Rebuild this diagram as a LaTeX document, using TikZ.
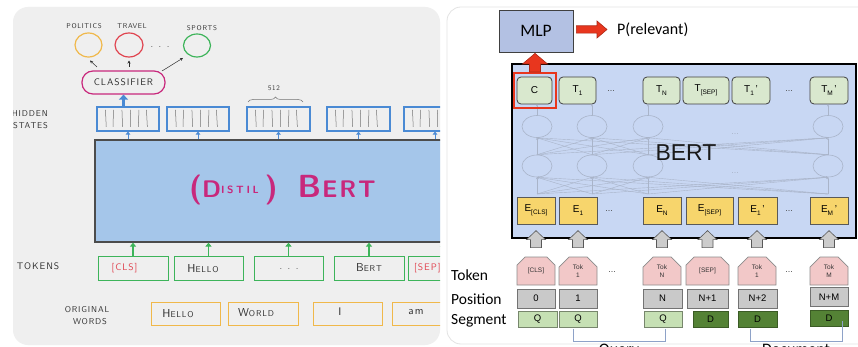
\documentclass[tikz,border=0pt]{standalone}
\usepackage{fontspec}
\setmainfont{Liberation Sans}
\newfontfamily\calib{Carlito}
\newfontfamily\handfont{lmsans10-regular.otf}[LetterSpace=10]
\newfontfamily\markerfont{lmsans10-bold.otf}
\newfontfamily\markerwide{lmsans10-bold.otf}[LetterSpace=25]
\newfontfamily\markerspread{lmsans10-bold.otf}[LetterSpace=8]
\usetikzlibrary{arrows.meta,shapes.geometric,shapes.misc,decorations.pathreplacing,calc}

\definecolor{panelgray}{HTML}{EFEFEF}
\definecolor{panelline}{HTML}{E3E3E3}
\definecolor{sketchblue}{HTML}{A5C6EA}
\definecolor{penblue}{HTML}{4A8AD4}
\definecolor{pengreen}{HTML}{3DB45A}
\definecolor{penorange}{HTML}{F0B84A}
\definecolor{penred}{HTML}{E0434F}
\definecolor{penmagenta}{HTML}{C8287C}
\definecolor{penink}{HTML}{2E2E2E}
\definecolor{bertfill}{HTML}{C8D7F3}
\definecolor{mlpfill}{HTML}{B3C1E3}
\definecolor{tfill}{HTML}{D9E8CE}
\definecolor{efill}{HTML}{F7D56C}
\definecolor{tokfill}{HTML}{F2C8C8}
\definecolor{posfill}{HTML}{C9C9C9}
\definecolor{segq}{HTML}{C6E0B4}
\definecolor{segd}{HTML}{548235}
\definecolor{arrred}{HTML}{E8361E}
\definecolor{netline}{HTML}{A9B4C9}
\definecolor{brkline}{HTML}{8EA2C8}

% lowered subscript for the cell labels
\newcommand\sbx[1]{\raisebox{-2.6pt}{\fontsize{6.5}{7}\selectfont #1}}
% hand lettering: first letter large, the rest small
\newcommand\hcap[2]{{\fontsize{11.5}{12}\selectfont #1}{\fontsize{8.5}{9}\selectfont #2}}

\tikzset{
  handtext/.style={font=\handfont\fontsize{7}{7}\selectfont, text=penink, inner sep=0pt},
  cellword/.style={font=\handfont\fontsize{9.5}{10}\selectfont, text=penink, inner sep=0pt},
  hiddenbox/.style={draw=penblue, line width=1.1pt, minimum height=24pt, inner sep=0pt},
  tokenbox/.style={draw=pengreen, line width=1pt, minimum height=24pt, inner sep=0pt},
  wordbox/.style={draw=penorange, line width=1pt, minimum height=23pt, inner sep=0pt},
  penstroke/.style={draw=black!55, line width=0.5pt},
  bluetip/.style={draw=penblue, line width=1pt, -{Triangle[length=3pt,width=4.5pt]}},
  greentip/.style={draw=pengreen, line width=1.3pt, -{Triangle[length=4pt,width=6pt]}},
  inkarrow/.style={draw=penink, line width=0.5pt, -{Stealth[length=3pt,width=3pt]}},
  topic/.style={ellipse, line width=1.2pt, inner sep=0pt},
  % right-hand figure
  tcell/.style={draw=black!75, fill=tfill, rounded corners=4pt, line width=0.8pt, minimum height=27pt, inner sep=0pt, font=\fontsize{10}{10}\selectfont},
  ecell/.style={draw=black!65, fill=efill, line width=0.8pt, minimum height=27pt, inner sep=0pt, font=\fontsize{10}{10}\selectfont},
  tokcell/.style={chamfered rectangle, chamfered rectangle corners={north west,north east}, chamfered rectangle xsep=5pt, chamfered rectangle ysep=5pt, draw=black!45, fill=tokfill, line width=0.7pt, minimum height=28pt, inner sep=0pt, align=center, font=\fontsize{6.5}{8}\selectfont, text=black!80},
  poscell/.style={draw=black!55, fill=posfill, line width=0.7pt, minimum height=19pt, inner sep=0pt, font=\fontsize{9.5}{10}\selectfont},
  segqcell/.style={draw=black!40!segq, fill=segq, line width=0.7pt, minimum height=16pt, inner sep=0pt, font=\fontsize{9.5}{10}\selectfont},
  segdcell/.style={draw=black!30!segd, fill=segd, line width=0.7pt, minimum height=16pt, inner sep=0pt, font=\fontsize{9.5}{10}\selectfont},
  neuron/.style={ellipse, draw=netline, line width=0.6pt, minimum width=30pt, minimum height=22pt, inner sep=0pt},
  netlink/.style={draw=netline, line width=0.4pt, -{Stealth[length=2pt,width=2pt]}},
  grayarrow/.style={draw=black!65, fill=black!20, line width=0.6pt},
  redarrow/.style={draw=black!25!arrred, fill=arrred, line width=0.6pt},
  rowlabel/.style={font=\calib\fontsize{15.5}{16}\selectfont, anchor=west, inner sep=0pt},
  dots/.style={font=\fontsize{9}{9}\selectfont, text=black!70, inner sep=0pt},
  bracketline/.style={draw=brkline, line width=0.8pt},
}

\begin{document}
\begin{tikzpicture}[x=1pt,y=-1pt]
\useasboundingbox (0,0) rectangle (858,347);
\clip (0,0) rectangle (858,347);
\fill[white] (0,0) rectangle (858,347);

%% ---------------- left: the sketched pipeline ----------------
\fill[panelgray, rounded corners=15pt] (13,7) rectangle (440,345);
\begin{scope}
\clip[rounded corners=15pt] (13,7) rectangle (440,345);

% topic classes
\node[topic, draw=penorange, minimum width=27pt, minimum height=24pt] (pol) at (88.5,45) {};
\node[topic, draw=penred, minimum width=28pt, minimum height=24pt] (trav) at (129,45) {};
\node[topic, draw=pengreen, minimum width=27pt, minimum height=23pt] (spo) at (197,45.5) {};
\node[handtext] (pollab) at (84,26) {POLITICS};
\node[handtext] (travlab) at (132,26.5) {TRAVEL};
\node[handtext] (spolab) at (202,28) {SPORTS};
\node[cellword] (topdots) at (160,47) {. . .};

% classifier
\node[draw=penmagenta, line width=1.2pt, rounded corners=11pt, minimum width=83pt, minimum height=23pt, inner sep=0pt,
      font=\handfont\fontsize{9.5}{10}\selectfont, text=penink] (cls) at (123.5,82.5) {CLASSIFIER};
\coordinate (c1a) at (97,67);  \coordinate (c1b) at (90,60.5);
\coordinate (c2a) at (129,67); \coordinate (c2b) at (129,60.5);
\coordinate (c3a) at (162,71); \coordinate (c3b) at (183,58);
\draw[inkarrow] (c1a) -- (c1b);
\draw[inkarrow] (c2a) -- (c2b);
\draw[inkarrow] (c3a) -- (c3b);

% hidden states
\node[hiddenbox, minimum width=62pt] (h1) at (128,119) {};
\node[hiddenbox, minimum width=62pt] (h2) at (198,119) {};
\node[hiddenbox, minimum width=63pt] (h3) at (278.5,119) {};
\node[hiddenbox, minimum width=63pt] (h4) at (358.5,119) {};
\node[hiddenbox, minimum width=62pt] (h5) at (435,119) {};
\foreach \b in {h1,h2,h3,h4,h5}{
  \foreach \dx/\tl in {9/0.8,17/-0.4,25.5/0.6,34/0.2,42.5/-0.6,50/0.9}
    \draw[penstroke] ($(\b.north west)+(\dx,3.5)$) -- ++(\tl,17);
}
\node[handtext, anchor=east, font=\handfont\fontsize{8.5}{9}\selectfont] (hidlab1) at (48,113.5) {HIDDEN};
\node[handtext, anchor=east, font=\handfont\fontsize{8.5}{9}\selectfont] (hidlab2) at (48,126) {STATES};
\draw[decorate, decoration={brace, amplitude=5pt}, draw=black!55, line width=0.5pt] (248,102) -- (303,102);
\node[handtext] (sizelab) at (274,88.5) {512};

\draw[draw=penblue, line width=2.2pt, -{Triangle[length=5pt,width=9pt]}] (h1.north -| cls.south) -- (cls.south);

% encoder block
\node[draw=black!70, fill=sketchblue, line width=1.2pt, minimum width=360pt, minimum height=102pt, inner sep=0pt] (lbert) at (275,191) {};
\node[inner sep=0pt, anchor=base west, text=penmagenta] (lbertlab) at (189,197)
  {\markerfont{\fontsize{30}{30}\selectfont (}{\fontsize{24}{24}\selectfont D}\raisebox{3pt}{\markerwide\fontsize{10.5}{11}\selectfont ISTIL}\hspace{6pt}{\fontsize{30}{30}\selectfont )}\hspace{20pt}{\fontsize{32}{32}\selectfont B}\hspace{1pt}{\markerspread\fontsize{24}{24}\selectfont ERT}};

\foreach \b in {h1,h2,h3,h4,h5}
  \draw[bluetip] (\b.south |- lbert.north) -- (\b.south);

% tokens
\node[tokenbox, minimum width=70pt] (t1) at (133,268) {};
\node[tokenbox, minimum width=69pt] (t2) at (208.5,268) {};
\node[tokenbox, minimum width=69pt] (t3) at (288.5,268) {};
\node[tokenbox, minimum width=70pt] (t4) at (369,268) {};
\node[tokenbox, minimum width=70pt] (t5) at (443,268) {};
\node[cellword, text=penred] (t1lab) at (124.5,268) {[CLS]};
\node[cellword] (t2lab) at (203,269) {\hcap{H}{ELLO}};
\node[cellword] (t3lab) at (289,269) {. . .};
\node[cellword] (t4lab) at (369,268) {\hcap{B}{ERT}};
\node[cellword, text=penred, anchor=west] (t5lab) at (414,268) {[SEP]};
\foreach \t in {t1,t2,t3,t4,t5}
  \draw[greentip] (\t.north) -- (\t.north |- lbert.south);
\node[handtext, font=\handfont\fontsize{9.5}{10}\selectfont] (toklab) at (38,266) {TOKENS};

% original words
\node[wordbox, minimum width=69pt] (w1) at (185.5,313.5) {};
\node[wordbox, minimum width=70pt] (w2) at (263,313.5) {};
\node[wordbox, minimum width=69pt] (w3) at (347.5,313.5) {};
\node[wordbox, minimum width=69pt] (w4) at (426.5,313.5) {};
\node[cellword] (w1lab) at (178,314) {\hcap{H}{ELLO}};
\node[cellword] (w2lab) at (256,312.5) {\hcap{W}{ORLD}};
\node[cellword] (w3lab) at (340,312) {\fontsize{11}{11}\selectfont I};
\node[cellword] (w4lab) at (416,312.5) {\fontsize{11}{11}\selectfont am};
\node[handtext, font=\handfont\fontsize{8.5}{9}\selectfont] (origlab1) at (87,309.5) {ORIGINAL};
\node[handtext, font=\handfont\fontsize{8.5}{9}\selectfont] (origlab2) at (90,321.5) {WORDS};
\end{scope}

%% ---------------- right: BERT for query/document relevance ----------------
\draw[draw=panelline, fill=white, line width=0.8pt, rounded corners=14pt] (447,7) rectangle (890,344);

% encoder
\node[draw=black, fill=bertfill, line width=2pt, minimum width=344pt, minimum height=174pt, inner sep=0pt] (rbert) at (684,151) {};

% output cells
\node[tcell, minimum width=35pt] (tc) at (534.5,90.5) {C};
\node[tcell, minimum width=37pt] (tt1) at (577.5,90.5) {T\sbx{1}};
\node[tcell, minimum width=37pt] (ttn) at (661.5,90.5) {T\sbx{N}};
\node[tcell, minimum width=46pt] (tsep) at (706,90.5) {T\sbx{[SEP]}};
\node[tcell, minimum width=38pt] (tt1p) at (751,90.5) {T\sbx{1}\,'};
\node[tcell, minimum width=38pt] (ttmp) at (829,90.5) {T\sbx{M}\,'};
\node[dots] (tdots1) at (611,91) {...};
\node[dots] (tdots2) at (789,91) {...};

% hidden layers of the encoder
\foreach \n/\x in {1/537,2/592,3/648,4/828}{
  \node[neuron] (ua\n) at (\x,126.5) {};
  \node[neuron] (ub\n) at (\x,166) {};
  \coordinate (ein\n) at (\x,194);
}
\foreach \i in {1,...,4}{
  \foreach \j in {1,...,4}{
    \draw[netlink] (ein\i) -- (ub\j.south);
    \draw[netlink] (ub\i.north) -- (ua\j.south);
  }
}
\draw[netlink] (ua1.north) -- (ua1.north |- tc.south);
\draw[netlink] (ua2.north) -- (ua2.north |- tt1.south);
\draw[netlink] (ua3.north) -- (ua3.north |- ttn.south);
\draw[netlink] (ua4.north) -- (ua4.north |- ttmp.south);
\node[dots, text=netline] (ndots1) at (735,134) {...};
\node[dots, text=netline] (ndots2) at (735,173) {...};
\node[inner sep=0pt, font=\fontsize{23}{23}\selectfont, text=black!90] (bertlab) at (686,153) {BERT};

% input embeddings
\node[ecell, minimum width=38pt] (ecls) at (536,210.5) {E\sbx{[CLS]}};
\node[ecell, minimum width=38pt] (e1) at (578,210.5) {E\sbx{1}};
\node[ecell, minimum width=38pt] (en) at (662,210.5) {E\sbx{N}};
\node[ecell, minimum width=47pt] (esep) at (709.5,210.5) {E\sbx{[SEP]}};
\node[ecell, minimum width=39pt] (e1p) at (757.5,210.5) {E\sbx{1}\,'};
\node[ecell, minimum width=38pt] (emp) at (829,210.5) {E\sbx{M}\,'};
\node[dots] (edots1) at (609,211) {...};
\node[dots] (edots2) at (789,211) {...};

% highlighted classification token and the head on top of it
\node[draw=arrred, line width=2pt, minimum width=42pt, minimum height=35pt, inner sep=0pt] (hl) at (535,90.5) {};
\node[draw=black!75, fill=mlpfill, line width=0.8pt, minimum width=74pt, minimum height=42pt, inner sep=0pt,
      font=\calib\fontsize{17.5}{18}\selectfont] (mlp) at (536,31) {MLP};
\node[inner sep=0pt, anchor=west, font=\calib\fontsize{16}{16}\selectfont] (prel) at (617,29.5) {P(relevant)};
\draw[redarrow] let \p1=(hl.north), \p2=(mlp.south) in
  (\x1-5.5pt,\y1) -- (\x1-5.5pt,\y1+8pt) -- (\x1-12.5pt,\y1+8pt) -- (\x1,\y2-1pt)
  -- (\x1+12.5pt,\y1+8pt) -- (\x1+5.5pt,\y1+8pt) -- (\x1+5.5pt,\y1) -- cycle;
\draw[redarrow] let \p1=(mlp.east), \p2=(prel.west) in
  (\x1+3pt,\y2+3.7pt) -- (\x2-20pt,\y2+3.7pt) -- (\x2-20pt,\y2+8.5pt) -- (\x2-10pt,\y2)
  -- (\x2-20pt,\y2-8.5pt) -- (\x2-20pt,\y2-3.7pt) -- (\x1+3pt,\y2-3.7pt) -- cycle;

% input rows
\node[tokcell, minimum width=38pt] (k1) at (536,271) {[CLS]};
\node[tokcell, minimum width=38pt] (k2) at (578,271) {Tok\\1};
\node[tokcell, minimum width=38pt] (kn) at (662,271) {Tok\\N};
\node[tokcell, minimum width=43pt] (ksep) at (707.5,271) {[SEP]};
\node[tokcell, minimum width=38pt] (k1p) at (757,271) {Tok\\1};
\node[tokcell, minimum width=38pt] (kmp) at (829,271) {Tok\\M};
\node[dots] (kdots1) at (612,272) {...};
\node[dots] (kdots2) at (789,272) {...};

\foreach \k in {k1,k2,kn,ksep,k1p,kmp}
  \draw[grayarrow] ($(\k.north)+(-5.5,-9)$) -- ($(\k.north)+(-5.5,-17)$) -- ($(\k.north)+(-9.5,-17)$)
    -- ($(\k.north)+(0,-26)$) -- ($(\k.north)+(9.5,-17)$) -- ($(\k.north)+(5.5,-17)$)
    -- ($(\k.north)+(5.5,-9)$) -- cycle;

\node[poscell, minimum width=38pt] (p0) at (536,298.5) {0};
\node[poscell, minimum width=38pt] (p1) at (578,298.5) {1};
\node[poscell, minimum width=39pt] (pn) at (662.5,298.5) {N};
\node[poscell, minimum width=41pt] (pn1) at (707.5,298.5) {N+1};
\node[poscell, minimum width=39pt] (pn2) at (757.5,298.5) {N+2};
\node[poscell, minimum width=38pt] (pnm) at (829,297) {N+M};

\node[segqcell, minimum width=39pt] (s1) at (537.5,319) {Q};
\node[segqcell, minimum width=38pt] (s2) at (578,319) {Q};
\node[segqcell, minimum width=38pt] (sn) at (663,319) {Q};
\node[segdcell, minimum width=35pt] (sd1) at (710.5,319) {D};
\node[segdcell, minimum width=39pt] (sd2) at (757.5,319) {D};
\node[segdcell, minimum width=38pt] (sd3) at (829,318) {D};

\node[rowlabel] (toklabel) at (451,275) {Token};
\node[rowlabel] (poslabel) at (451,299) {Position};
\node[rowlabel] (seglabel) at (451,320.5) {Segment};

% query / document spans
\coordinate (qa) at (573,329); \coordinate (qb) at (665,329);
\coordinate (da) at (750,329); \coordinate (db) at (842,321);
\draw[bracketline] (qa) -- (qa |- 0,341) -- (qb |- 0,341) -- (qb);
\draw[bracketline] (da) -- (da |- 0,341) -- (db |- 0,341) -- (db);
\node[anchor=north, inner sep=0pt, font=\calib\fontsize{16}{16}\selectfont] (qlab) at (619,344) {Query};
\node[anchor=north, inner sep=0pt, font=\calib\fontsize{16}{16}\selectfont] (dlab) at (796,344) {Document};
\end{tikzpicture}
\end{document}
